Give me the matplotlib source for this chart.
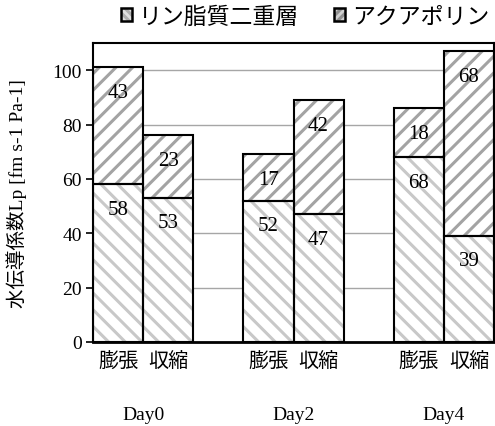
import matplotlib
matplotlib.use('Agg')
import matplotlib.pyplot as plt
from matplotlib.patches import Patch
from matplotlib.legend_handler import HandlerTuple

plt.rcParams['font.family'] = ['Liberation Serif', 'Noto Sans CJK JP', 'DejaVu Sans']
plt.rcParams['hatch.linewidth'] = 2.2

days = ['Day0', 'Day2', 'Day4']
conds = ['膨張', '収縮']
lipid = [58, 53, 52, 47, 68, 39]
aqp = [43, 23, 17, 42, 18, 68]
series_names = ['リン脂質二重層', 'アクアポリン']

lipid_hatch = dict(color='white', edgecolor='#c8c8c8', hatch='\\\\', linewidth=0)
aqp_hatch = dict(color='white', edgecolor='#a3a3a3', hatch='//', linewidth=0)

w = 1 / 3
xs = []
for i in range(len(days)):
    xs += [i - w / 2, i + w / 2]

fig = plt.figure(figsize=(4.95, 4.27), dpi=100)
ax = fig.add_axes([93 / 495, 1 - 343 / 427, 401 / 495, 299 / 427])

# hatch fills first, black outlines on top
ax.bar(xs, lipid, w, zorder=2, **lipid_hatch)
ax.bar(xs, aqp, w, bottom=lipid, zorder=2, **aqp_hatch)
ax.bar(xs, lipid, w, fill=False, edgecolor='black', linewidth=1.5, zorder=3)
ax.bar(xs, aqp, w, bottom=lipid, fill=False, edgecolor='black', linewidth=1.5, zorder=3)

for x, a, b in zip(xs, lipid, aqp):
    ax.annotate(str(a), (x, a), xytext=(0, -18), textcoords='offset points',
                ha='center', va='center', fontsize=15, zorder=4)
    ax.annotate(str(b), (x, a + b), xytext=(0, -18), textcoords='offset points',
                ha='center', va='center', fontsize=15, zorder=4)

ax.set_xlim(-w, len(days) - 1 + w)
ax.set_ylim(0, 110)
ax.set_yticks(range(0, 101, 20))
ax.tick_params(axis='y', direction='out', length=5, width=1.2, labelsize=14, pad=3)
ax.yaxis.grid(True, color='#a6a6a6', linewidth=1)
ax.set_axisbelow(True)

ax.set_xticks(xs)
ax.set_xticklabels(conds * len(days), fontsize=14.5)
ax.tick_params(axis='x', length=0, pad=8)
for i, d in enumerate(days):
    ax.annotate(d, (i, 0), xycoords=('data', 'axes fraction'), xytext=(0, -52),
                textcoords='offset points', ha='center', va='center', fontsize=14)

for s in ax.spines.values():
    s.set_linewidth(1.5)
ax.spines['bottom'].set_linewidth(2)

ax.set_ylabel('水伝導係数Lp [fm s-1 Pa-1]', fontsize=14)
ax.yaxis.set_label_coords(-0.165, 0.5)

# small legend keys: grey fill with a fine hatch, black frame
handles = [(Patch(facecolor='#e0e0e0', edgecolor='#b0b0b0', hatch='\\\\\\\\', linewidth=0),
            Patch(fill=False, edgecolor='black', linewidth=1.8)),
           (Patch(facecolor='#d0d0d0', edgecolor='#909090', hatch='////', linewidth=0),
            Patch(fill=False, edgecolor='black', linewidth=1.8))]
fig.legend(handles, series_names, ncol=2, loc='center', bbox_to_anchor=(0.616, 1 - 18 / 427),
           frameon=False, fontsize=16.5, handlelength=0.5, handleheight=0.5,
           handletextpad=0.3, columnspacing=1.5,
           handler_map={tuple: HandlerTuple(ndivide=1)})

fig.savefig('out.png', dpi=100)
